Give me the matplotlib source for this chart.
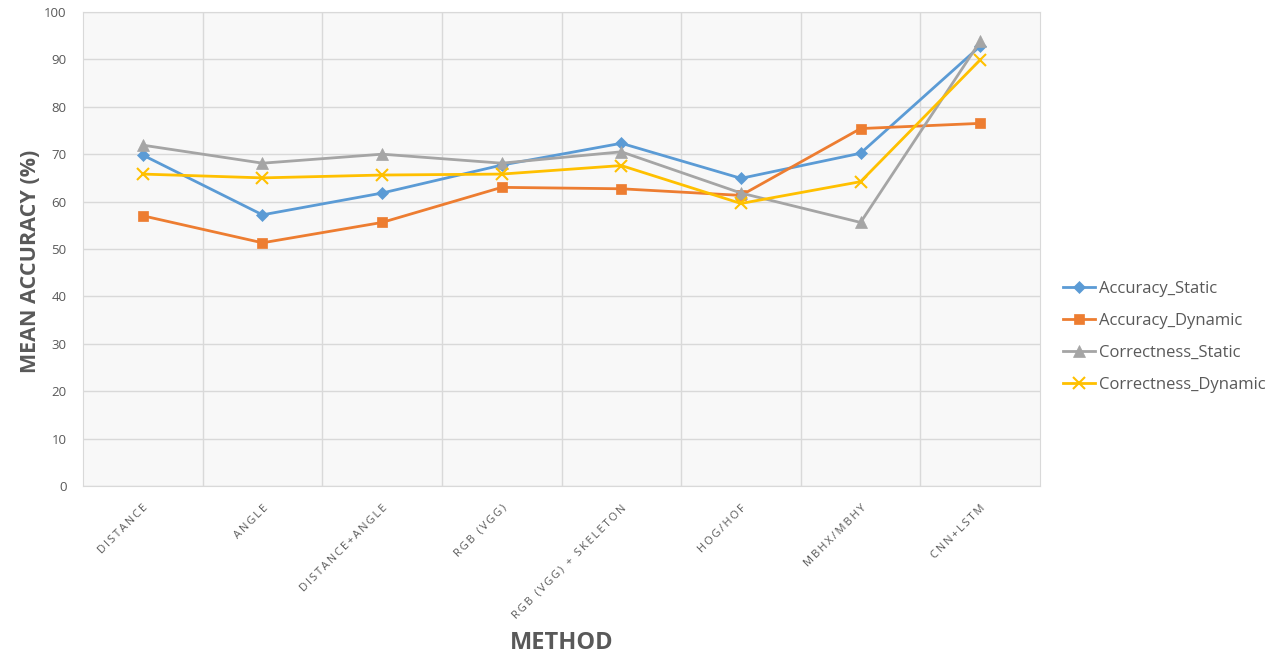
import matplotlib

matplotlib.use("Agg")
import matplotlib.pyplot as plt
from matplotlib.ticker import FixedLocator, MultipleLocator

methods = [
    "DISTANCE",
    "ANGLE",
    "DISTANCE+ANGLE",
    "RGB (VGG)",
    "RGB (VGG) + SKELETON",
    "HOG/HOF",
    "MBHX/MBHY",
    "CNN+LSTM",
]
accuracy_static = [69.8, 57.2, 61.8, 67.7, 72.3, 64.9, 70.2, 92.8]
accuracy_dynamic = [57.0, 51.3, 55.6, 63.0, 62.7, 61.3, 75.4, 76.5]
correctness_static = [71.9, 68.1, 70.0, 68.1, 70.5, 61.8, 55.6, 93.8]
correctness_dynamic = [65.8, 65.0, 65.6, 65.8, 67.6, 59.6, 64.2, 89.9]

series = [
    ("Accuracy_Static", accuracy_static, "#5B9BD5", "D", 6),
    ("Accuracy_Dynamic", accuracy_dynamic, "#ED7D31", "s", 7.5),
    ("Correctness_Static", correctness_static, "#A5A5A5", "^", 8),
    ("Correctness_Dynamic", correctness_dynamic, "#FFC000", "x", 8),
]

plt.rcParams["font.family"] = ["Open Sans", "DejaVu Sans"]


def spaced(text):
    # wide letter spacing as in the original category labels
    return "\u2009".join(text)


fig = plt.figure(figsize=(12.7, 6.54), dpi=100)
ax = fig.add_axes([0.0654, 0.2569, 0.7535, 0.7248])
ax.set_facecolor("#F8F8F8")

x = list(range(len(methods)))
for name, values, color, marker, size in series:
    ax.plot(
        x,
        values,
        label=name,
        color=color,
        linewidth=2,
        marker=marker,
        markersize=size,
        markeredgewidth=1.5 if marker == "x" else 0.5,
        markeredgecolor=color,
    )

ax.set_xlim(-0.5, len(methods) - 0.5)
ax.set_ylim(0, 100)
ax.yaxis.set_major_locator(MultipleLocator(10))
ax.set_xticks(x)
ax.set_xticklabels([spaced(m) for m in methods], rotation=45, ha="right",
                   rotation_mode="anchor", fontsize=8, color="#595959")
ax.xaxis.set_minor_locator(FixedLocator([i + 0.5 for i in range(len(methods) - 1)]))
ax.tick_params(axis="x", which="both", length=0, pad=12)
ax.tick_params(axis="y", length=0, labelsize=9.5, labelcolor="#595959", pad=12)
ax.grid(True, axis="y", which="major", color="#D9D9D9", linewidth=1)
ax.grid(True, axis="x", which="minor", color="#D9D9D9", linewidth=1)
ax.set_axisbelow(True)
for spine in ax.spines.values():
    spine.set_color("#D9D9D9")

ax.set_ylabel("MEAN ACCURACY (%)", fontsize=15.5, fontweight="bold", color="#595959")
ax.yaxis.set_label_coords(-0.0435, 0.473)
fig.text(0.442, 0.008, "METHOD", fontsize=17, fontweight="bold", color="#595959",
         ha="center", va="baseline")

fig.legend(loc="center left", bbox_to_anchor=(0.8255, 0.4846), frameon=False,
           fontsize=12, labelcolor="#595959", handlelength=1.9, handletextpad=0.25,
           labelspacing=0.95)

fig.savefig("out.png", dpi=100, facecolor="white")
